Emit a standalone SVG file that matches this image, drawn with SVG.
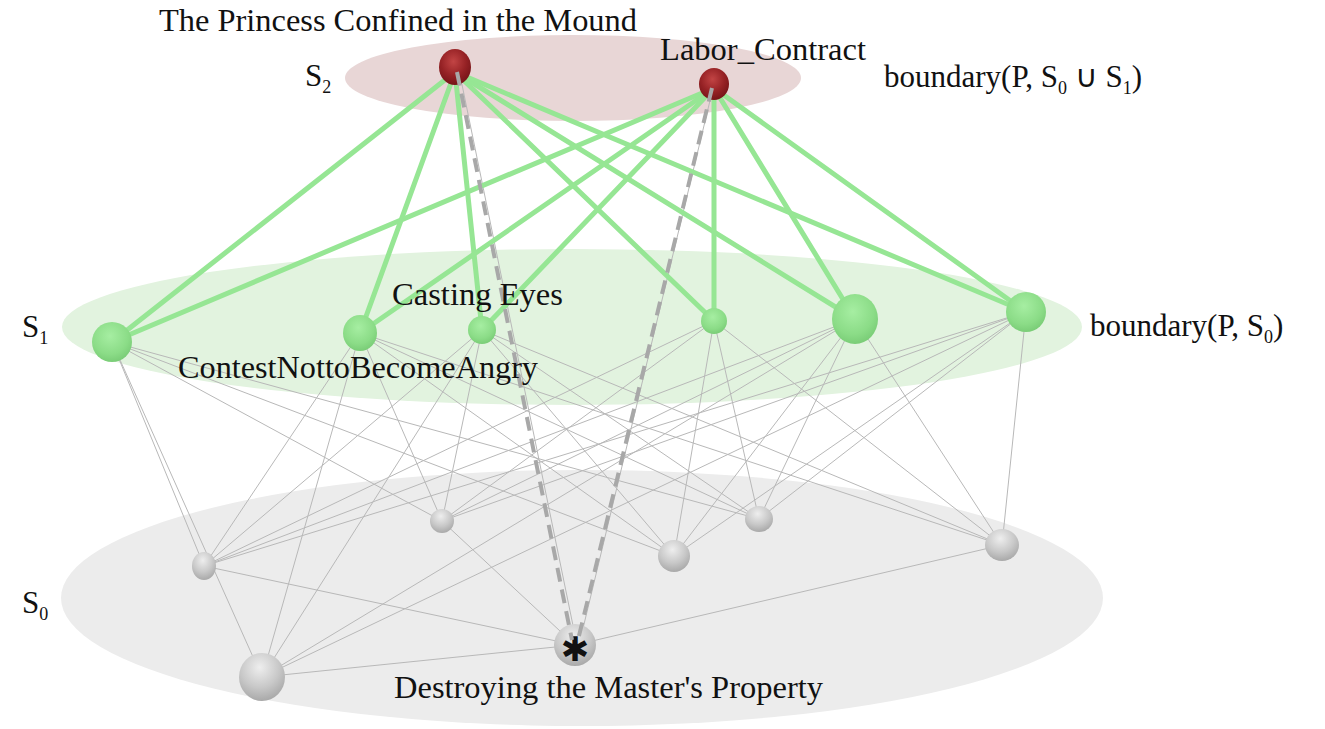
<svg xmlns="http://www.w3.org/2000/svg" width="1325" height="729" viewBox="0 0 1325 729">
<defs>
<radialGradient id="gRed" cx="45%" cy="35%" r="65%">
<stop offset="0" stop-color="#c24444"/><stop offset="0.6" stop-color="#962225"/><stop offset="1" stop-color="#761518"/>
</radialGradient>
<radialGradient id="gGreen" cx="45%" cy="35%" r="65%">
<stop offset="0" stop-color="#a6eea2"/><stop offset="0.7" stop-color="#8bdc87"/><stop offset="1" stop-color="#7acd77"/>
</radialGradient>
<radialGradient id="gGrey" cx="45%" cy="30%" r="70%">
<stop offset="0" stop-color="#eeeeee"/><stop offset="0.6" stop-color="#c8c8c8"/><stop offset="1" stop-color="#a9a9a9"/>
</radialGradient>
<style>
.lbl{font-family:"Liberation Serif","Times New Roman",serif;font-size:31px;fill:#111;}
.sub{font-size:18px;}
.g{stroke:#b8b8b8;stroke-width:1;fill:none;}
.gr{stroke:#96e694;stroke-width:5;stroke-linecap:round;fill:none;}
.da{stroke:#a8a8a8;stroke-width:4;stroke-dasharray:14 8;fill:none;}
.thin{stroke:#b8b8b8;stroke-width:1;fill:none;}
.red{fill:url(#gRed);}
.green{fill:url(#gGreen);}
.grey{fill:url(#gGrey);}
.star{font-family:"DejaVu Sans",sans-serif;font-size:34px;fill:#111;}
</style>
</defs>
<rect width="1325" height="729" fill="#ffffff"/>
<g id="layers">
<ellipse cx="582" cy="598" rx="521" ry="128" fill="#ececec"/>
<ellipse cx="572" cy="327" rx="510" ry="78" fill="#e2f3df"/>
<ellipse cx="573" cy="78" rx="228" ry="43" fill="#e8d6d6"/>
</g>
<g id="connectors">
<g id="grey-edges">
<line class="g" x1="112" y1="342" x2="204" y2="566"/>
<line class="g" x1="112" y1="342" x2="262" y2="677"/>
<line class="g" x1="112" y1="342" x2="442" y2="521"/>
<line class="g" x1="112" y1="342" x2="674" y2="556"/>
<line class="g" x1="112" y1="342" x2="759" y2="519"/>
<line class="g" x1="360" y1="333" x2="204" y2="566"/>
<line class="g" x1="360" y1="333" x2="262" y2="677"/>
<line class="g" x1="360" y1="333" x2="442" y2="521"/>
<line class="g" x1="360" y1="333" x2="674" y2="556"/>
<line class="g" x1="360" y1="333" x2="759" y2="519"/>
<line class="g" x1="360" y1="333" x2="1002" y2="545"/>
<line class="g" x1="482" y1="330" x2="204" y2="566"/>
<line class="g" x1="482" y1="330" x2="442" y2="521"/>
<line class="g" x1="482" y1="330" x2="674" y2="556"/>
<line class="g" x1="482" y1="330" x2="759" y2="519"/>
<line class="g" x1="482" y1="330" x2="1002" y2="545"/>
<line class="g" x1="482" y1="330" x2="262" y2="677"/>
<line class="g" x1="714" y1="321" x2="204" y2="566"/>
<line class="g" x1="714" y1="321" x2="442" y2="521"/>
<line class="g" x1="714" y1="321" x2="674" y2="556"/>
<line class="g" x1="714" y1="321" x2="759" y2="519"/>
<line class="g" x1="714" y1="321" x2="1002" y2="545"/>
<line class="g" x1="855" y1="319" x2="204" y2="566"/>
<line class="g" x1="855" y1="319" x2="442" y2="521"/>
<line class="g" x1="855" y1="319" x2="674" y2="556"/>
<line class="g" x1="855" y1="319" x2="759" y2="519"/>
<line class="g" x1="855" y1="319" x2="1002" y2="545"/>
<line class="g" x1="855" y1="319" x2="262" y2="677"/>
<line class="g" x1="1026" y1="312" x2="204" y2="566"/>
<line class="g" x1="1026" y1="312" x2="442" y2="521"/>
<line class="g" x1="1026" y1="312" x2="674" y2="556"/>
<line class="g" x1="1026" y1="312" x2="759" y2="519"/>
<line class="g" x1="1026" y1="312" x2="1002" y2="545"/>
<line class="g" x1="1026" y1="312" x2="262" y2="677"/>
<line class="g" x1="204" y1="566" x2="575" y2="645"/>
<line class="g" x1="262" y1="677" x2="575" y2="645"/>
<line class="g" x1="575" y1="645" x2="1002" y2="545"/>
<line class="g" x1="442" y1="521" x2="575" y2="645"/>
<line class="thin" x1="459" y1="70" x2="577" y2="645"/>
<line class="thin" x1="714" y1="84" x2="579" y2="645"/>
</g>
<g id="green-edges">
<line class="gr" x1="455" y1="72" x2="112" y2="342"/>
<line class="gr" x1="455" y1="72" x2="360" y2="333"/>
<line class="gr" x1="455" y1="72" x2="482" y2="330"/>
<line class="gr" x1="455" y1="72" x2="714" y2="321"/>
<line class="gr" x1="455" y1="72" x2="855" y2="319"/>
<line class="gr" x1="455" y1="72" x2="1026" y2="312"/>
<line class="gr" x1="714" y1="88" x2="112" y2="342"/>
<line class="gr" x1="714" y1="88" x2="360" y2="333"/>
<line class="gr" x1="714" y1="88" x2="482" y2="330"/>
<line class="gr" x1="714" y1="88" x2="714" y2="321"/>
<line class="gr" x1="714" y1="88" x2="855" y2="319"/>
<line class="gr" x1="714" y1="88" x2="1026" y2="312"/>
</g>
</g>
<g id="node-princess"><ellipse class="red" cx="455" cy="67" rx="16" ry="18"/></g>
<g id="node-labor"><ellipse class="red" cx="714" cy="84" rx="15" ry="16"/></g>
<g id="node-A"><ellipse class="green" cx="112" cy="342" rx="20" ry="20"/></g>
<g id="node-B"><ellipse class="green" cx="360" cy="333" rx="17" ry="18"/></g>
<g id="node-C"><ellipse class="green" cx="482" cy="330" rx="14" ry="14"/></g>
<g id="node-D"><ellipse class="green" cx="714" cy="321" rx="13" ry="13"/></g>
<g id="node-E"><ellipse class="green" cx="855" cy="319" rx="23" ry="25"/></g>
<g id="node-F"><ellipse class="green" cx="1026" cy="312" rx="20" ry="20"/></g>
<g id="node-a"><ellipse class="grey" cx="204" cy="566" rx="12" ry="14"/></g>
<g id="node-b"><ellipse class="grey" cx="442" cy="521" rx="12" ry="12"/></g>
<g id="node-c"><ellipse class="grey" cx="674" cy="556" rx="16" ry="16"/></g>
<g id="node-d"><ellipse class="grey" cx="759" cy="519" rx="14" ry="13"/></g>
<g id="node-e"><ellipse class="grey" cx="1002" cy="545" rx="17" ry="16"/></g>
<g id="node-f"><ellipse class="grey" cx="262" cy="677" rx="23" ry="24"/></g>
<g id="node-g"><ellipse class="grey" cx="575" cy="645" rx="21" ry="21"/>
<text class="star" x="575" y="661" text-anchor="middle">✱</text></g>
<g id="dashed-edges">
<line class="da" x1="457" y1="72" x2="572" y2="640"/>
<line class="da" x1="712" y1="88" x2="578" y2="640"/>
</g>
<g id="labels">
<text class="lbl" x="159" y="31" textLength="478" lengthAdjust="spacingAndGlyphs">The Princess Confined in the Mound</text>
<text class="lbl" x="660" y="60" textLength="206" lengthAdjust="spacingAndGlyphs">Labor_Contract</text>
<text class="lbl" x="884" y="87">boundary(P, S<tspan class="sub" dy="7">0</tspan><tspan dy="-7"> ∪ </tspan>S<tspan class="sub" dy="7">1</tspan><tspan dy="-7">)</tspan></text>
<text class="lbl" x="305" y="86">S<tspan class="sub" dy="7">2</tspan></text>
<text class="lbl" x="392" y="305" textLength="171" lengthAdjust="spacingAndGlyphs">Casting Eyes</text>
<text class="lbl" x="22" y="337">S<tspan class="sub" dy="7">1</tspan></text>
<text class="lbl" x="178" y="378" textLength="360" lengthAdjust="spacingAndGlyphs">ContestNottoBecomeAngry</text>
<text class="lbl" x="1090" y="336">boundary(P, S<tspan class="sub" dy="7">0</tspan><tspan dy="-7">)</tspan></text>
<text class="lbl" x="22" y="613">S<tspan class="sub" dy="7">0</tspan></text>
<text class="lbl" x="394" y="698" textLength="429" lengthAdjust="spacingAndGlyphs">Destroying the Master's Property</text>
</g>
</svg>
